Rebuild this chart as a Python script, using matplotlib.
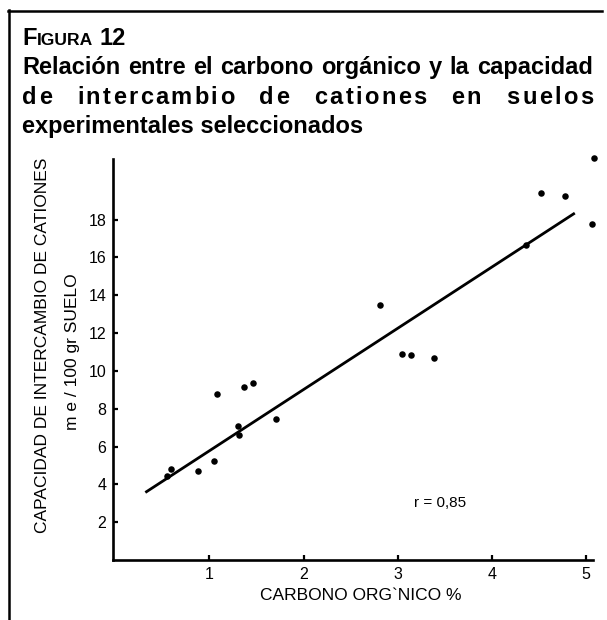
import matplotlib
matplotlib.use("Agg")
import matplotlib.pyplot as plt
from matplotlib.lines import Line2D

plt.rcParams['font.family'] = ['Liberation Sans', 'DejaVu Sans']

# ---- data ----
carbono = [0.55, 0.59, 0.88, 1.05, 1.08, 1.30, 1.31, 1.37, 1.46, 1.71,
           2.81, 3.04, 3.14, 3.38, 4.36, 4.52, 4.78, 5.06, 5.08]
cic = [4.43, 4.80, 4.73, 5.21, 8.76, 7.06, 6.60, 9.15, 9.35, 7.43,
       13.48, 10.89, 10.86, 10.68, 16.63, 19.38, 19.24, 17.79, 21.24]
reg_x = [0.32, 4.88]
reg_y = [3.57, 18.34]
x_ticks = [1, 2, 3, 4, 5]
y_ticks = [2, 4, 6, 8, 10, 12, 14, 16, 18]
r_text = "r = 0,85"
xlabel = "CARBONO ORG`NICO %"
ylabel1 = "CAPACIDAD DE INTERCAMBIO DE CATIONES"
ylabel2 = "m e / 100 gr SUELO"
title_lines = ["Relación entre el carbono orgánico y la capacidad",
               "de intercambio de cationes en suelos",
               "experimentales seleccionados"]

W, H = 607, 620
fig = plt.figure(figsize=(W / 100, H / 100), dpi=100)
fig.patch.set_facecolor('white')
renderer = fig.canvas.get_renderer()


def fx(px):
    return px / W


def fy(py):
    return 1 - py / H


def width(s, **kw):
    t = fig.text(0, 0, s, **kw)
    w = t.get_window_extent(renderer).width
    t.remove()
    return w


# ---- frame (top + left) ----
fig.add_artist(Line2D([fx(8), fx(602)], [fy(10.5), fy(10.5)], color='black', lw=1.8,
                      transform=fig.transFigure))
fig.add_artist(Line2D([fx(9), fx(9)], [fy(10), fy(620)], color='black', lw=1.8,
                      transform=fig.transFigure))

# ---- title ----
TS = 17
tkw = dict(fontsize=TS, fontweight='bold', va='baseline', ha='left')
x0, x1 = 22, 593
# FIGURA 12 in small caps
xx = x0
for s, fs in [("F", TS), ("IGURA", TS * 0.74), (" 12", TS)]:
    kw = dict(tkw); kw['fontsize'] = fs
    if s.startswith(" "):
        sp = width("n n", **kw) - width("nn", **kw)
        fig.text(fx(xx + sp), fy(45), s.strip(), **kw)
        xx += sp + width(s.strip(), **kw)
    else:
        fig.text(fx(xx), fy(45), s, **kw)
        xx += width(s, **kw)

# line 1: word-justified
words = title_lines[0].split(" ")
ww = [width(w_, **tkw) for w_ in words]
gap = (x1 - x0 - sum(ww)) / (len(words) - 1)
xx = x0
for w_, wd in zip(words, ww):
    fig.text(fx(xx), fy(74), w_, **tkw)
    xx += wd + gap

# line 2: letter + word spaced
line = title_lines[1]
spw = width("n n", **tkw) - width("nn", **tkw)
cw = [spw if c == " " else width(c, **tkw) for c in line]
extra = (x1 - x0) - sum(cw)
n_gaps = len(line) - 1
n_sp = line.count(" ")
k = 6
a = extra / (n_gaps + k * n_sp)
xx = x0
for c, wd in zip(line, cw):
    if c != " ":
        fig.text(fx(xx), fy(104), c, **tkw)
        xx += wd + a
    else:
        xx += wd + a + k * a
# line 3: left aligned
fig.text(fx(x0), fy(133), title_lines[2], **tkw)

# ---- axes ----
ax = fig.add_axes([fx(113.3), fy(560), fx(592.7) - fx(113.3), fy(159) - fy(560)])
ax.set_xlim(-0.02, 5.07)
ax.set_ylim(0, 21.2)
for s in ['top', 'right']:
    ax.spines[s].set_visible(False)
for s in ['left', 'bottom']:
    ax.spines[s].set_linewidth(1.9)
ax.set_xticks(x_ticks)
ax.set_yticks(y_ticks)
ax.tick_params(direction='in', length=3.8, width=1.6, labelsize=11.5, pad=5)
ax.set_facecolor('white')

ax.plot(reg_x, reg_y, color='black', lw=2.0, solid_capstyle='butt')
ax.scatter(carbono, cic, s=22, color='black', zorder=3, clip_on=False, linewidths=0)
ax.text(3.45, 3.03, r_text, fontsize=11, ha='center', va='center')

fig.text(fx(361), fy(596), xlabel, fontsize=12.5, ha='center', va='center')
fig.text(fx(43), fy(345), ylabel1, fontsize=12.5, ha='center', va='center', rotation=90)
fig.text(fx(73), fy(352), ylabel2, fontsize=12.5, ha='center', va='center', rotation=90)

fig.savefig("out.png", dpi=100, facecolor='white')
